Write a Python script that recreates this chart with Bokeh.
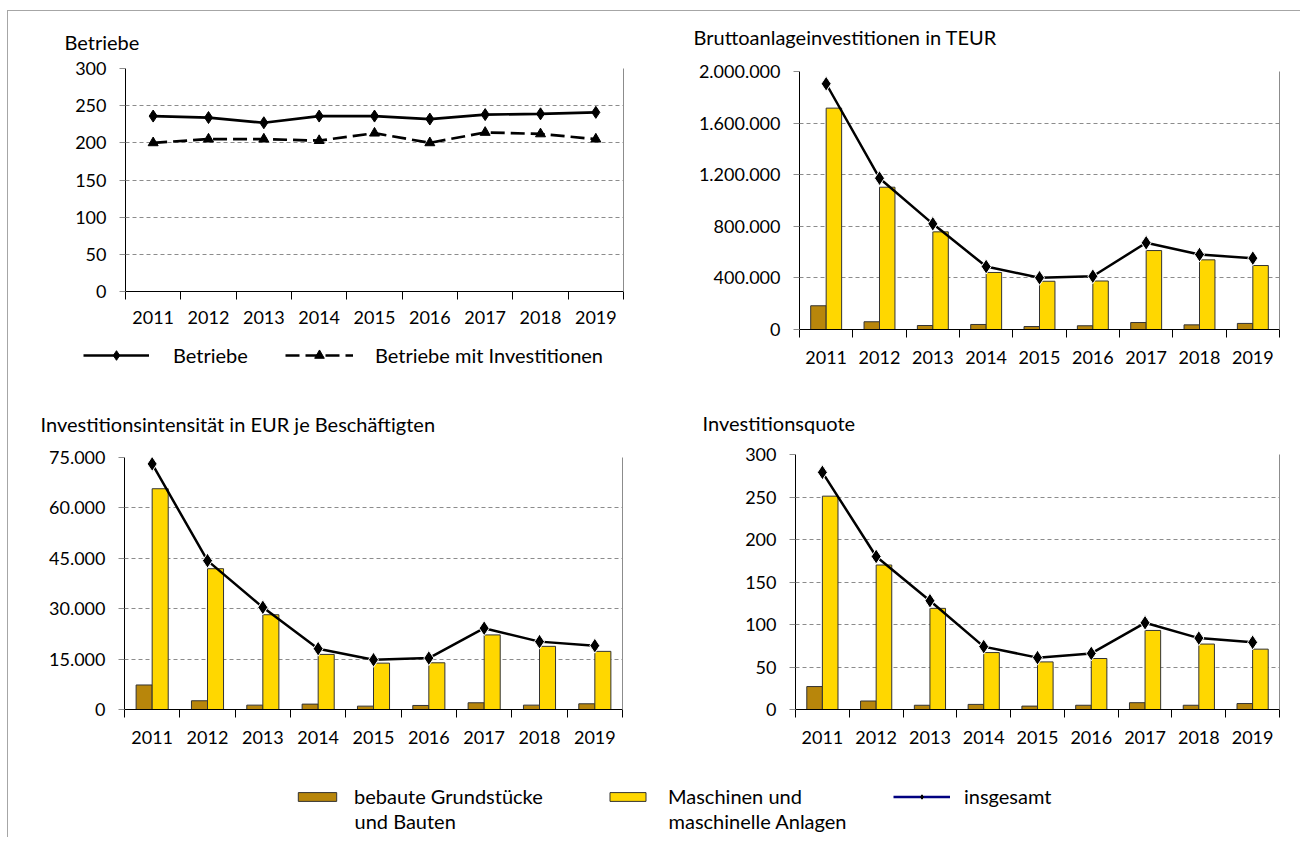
from bokeh.plotting import figure
from bokeh.models import (Range1d, FixedTicker, LinearAxis, Legend, LegendItem,
                          ColumnDataSource, Label)
from bokeh.transform import dodge
from bokeh.layouts import column, row
from bokeh.embed import file_html
from bokeh.resources import INLINE

# ---------------- data ----------------
years = ["2011", "2012", "2013", "2014", "2015", "2016", "2017", "2018", "2019"]

betriebe = [236, 234, 227, 236, 236, 232, 238, 239, 241]
betriebe_inv = [200, 205, 205, 203, 213, 200, 214, 212, 205]

bai_bauten = [184000, 60000, 31000, 39000, 23000, 29000, 54000, 36000, 47000]
bai_masch = [1716000, 1103000, 757000, 442000, 374000, 376000, 612000, 540000, 496000]
bai_total = [1905000, 1173000, 819000, 488000, 401000, 413000, 672000, 581000, 553000]

int_bauten = [7300, 2600, 1300, 1600, 1000, 1200, 2000, 1300, 1700]
int_masch = [65700, 41900, 28200, 16400, 13800, 13900, 22200, 18800, 17300]
int_total = [73100, 44300, 30400, 18100, 14800, 15300, 24200, 20200, 19000]

quote_bauten = [27, 10, 5, 6, 4, 5, 8, 5, 7]
quote_masch = [251, 170, 119, 67, 56, 60, 93, 77, 71]
quote_total = [279, 180, 128, 74, 61, 66, 102, 84, 79]

ticks_betriebe = [0, 50, 100, 150, 200, 250, 300]
ticks_bai = [0, 400000, 800000, 1200000, 1600000, 2000000]
ticks_int = [0, 15000, 30000, 45000, 60000, 75000]
ticks_quote = [0, 50, 100, 150, 200, 250, 300]

titles = ["Betriebe", "Bruttoanlageinvestitionen in TEUR",
          "Investitionsintensität in EUR je Beschäftigten", "Investitionsquote"]
legend_betriebe = ["Betriebe", "Betriebe mit Investitionen"]
legend_main = ["bebaute Grundstücke", "Maschinen und", "insgesamt"]
legend_main_2nd = ["und Bauten", "maschinelle Anlagen"]

# ---------------- style ----------------
FONT = "Lato"
FS = "20px"      # titles / legends
TS = "18px"      # tick labels
BROWN = "#B8860B"
YELLOW = "#FFD700"
GRID = "#8c8c8c"
EDGE = "#333333"

idx = list(range(len(years)))


def de_fmt(v):
    return f"{v:,}".replace(",", ".")


def strip_fig(width, height):
    """Axis-less strip whose frame is the whole canvas (for titles / legends)."""
    q = figure(width=width, height=height, output_backend="svg", toolbar_location=None,
               x_axis_type=None, y_axis_type=None, min_border=0,
               x_range=Range1d(0, width), y_range=Range1d(0, height))
    q.outline_line_color = None
    q.grid.visible = False
    return q


def title_strip(text, width, height, xpos, ypos):
    t = strip_fig(width, height)
    t.add_layout(Label(x=xpos, y=ypos, text=text, text_font=FONT, text_font_size=FS,
                       text_color="black", text_baseline="middle", text_align="left"))
    return t


def make_fig(width, height, left, right, top, bottom, yticks, xstand=13):
    p = figure(width=width, height=height, output_backend="svg", toolbar_location=None,
               x_range=Range1d(-0.5, len(years) - 0.5), y_range=Range1d(yticks[0], yticks[-1]),
               min_border_left=left, min_border_right=right, min_border_top=top,
               min_border_bottom=bottom)
    p.outline_line_color = None
    p.xgrid.visible = False
    p.ygrid.ticker = FixedTicker(ticks=yticks)
    p.ygrid.grid_line_color = GRID
    p.ygrid.grid_line_dash = "4 3"
    p.ygrid.grid_line_width = 1

    xa = p.xaxis[0]
    xa.ticker = FixedTicker(ticks=idx, minor_ticks=[i - 0.5 for i in range(len(years) + 1)])
    xa.major_label_overrides = {i: y for i, y in zip(idx, years)}
    xa.major_tick_out = 0
    xa.major_tick_in = 0
    xa.minor_tick_out = 8
    xa.minor_tick_in = 0
    xa.minor_tick_line_color = "black"
    xa.axis_line_color = "black"
    xa.major_label_standoff = xstand
    xa.major_label_text_font = FONT
    xa.major_label_text_font_size = TS
    xa.major_label_text_color = "black"

    ya = p.yaxis[0]
    ya.ticker = FixedTicker(ticks=yticks)
    ya.major_label_overrides = {t: de_fmt(t) for t in yticks}
    ya.major_tick_out = 6
    ya.major_tick_in = 0
    ya.major_tick_line_color = GRID
    ya.minor_tick_line_color = None
    ya.axis_line_color = "black"
    ya.major_label_standoff = 13
    ya.major_label_text_font = FONT
    ya.major_label_text_font_size = TS
    ya.major_label_text_color = "black"

    ra = LinearAxis(ticker=FixedTicker(ticks=[]), axis_line_color=GRID,
                    major_tick_line_color=None, minor_tick_line_color=None,
                    major_label_text_font_size="0px")
    p.add_layout(ra, "right")
    return p


def add_bars(p, bauten, masch, total, w=0.29):
    src = ColumnDataSource(dict(x=idx, bauten=bauten, masch=masch, total=total))
    p.vbar(x=dodge("x", -w / 2, range=p.x_range), top="bauten", width=w, source=src,
           fill_color=BROWN, line_color=EDGE, line_width=1)
    p.vbar(x=dodge("x", w / 2, range=p.x_range), top="masch", width=w, source=src,
           fill_color=YELLOW, line_color=EDGE, line_width=1)
    p.line("x", "total", source=src, line_color="black", line_width=2.5)
    p.scatter("x", "total", source=src, marker="diamond", size=15,
              fill_color="black", line_color="white", line_width=1)
    return src


def add_legend(q, label, rends, loc, gw, gh, standoff):
    lg = Legend(items=[LegendItem(label=label, renderers=rends)], location=loc,
                glyph_width=gw, glyph_height=gh, label_standoff=standoff, padding=0, margin=0,
                border_line_color=None, background_fill_alpha=0, inactive_fill_alpha=0,
                label_text_font=FONT, label_text_font_size=FS, label_text_color="black")
    q.add_layout(lg, "center")


# ---------------- top-left: Betriebe ----------------
t1 = title_strip(titles[0], 641, 45, 56, 15)
p1 = make_fig(641, 279, 117, 26, 12, 44, ticks_betriebe, xstand=11)
src1 = ColumnDataSource(dict(x=idx, b=betriebe, bi=betriebe_inv))
p1.line("x", "b", source=src1, line_color="black", line_width=2.7)
p1.scatter("x", "b", source=src1, marker="diamond", size=12, fill_color="black", line_color="black")
p1.line("x", "bi", source=src1, line_color="black", line_width=2.7, line_dash="14 6")
p1.scatter("x", "bi", source=src1, marker="triangle", size=10, fill_color="black", line_color="black")

# legend strip of the top-left chart (hidden renderers only feed the legend glyphs)
q1 = strip_fig(641, 60)
kl1 = q1.line("x", "b", source=src1, line_color="black", line_width=2.5, visible=False)
ks1 = q1.scatter("x", "b", source=src1, marker="diamond", size=8, fill_color="black",
                 line_color="black", visible=False)
kl2 = q1.line("x", "bi", source=src1, line_color="black", line_width=2.5, line_dash="14 6",
              visible=False)
ks2 = q1.scatter("x", "bi", source=src1, marker="triangle", size=7, fill_color="black",
                 line_color="black", visible=False)
add_legend(q1, legend_betriebe[0], [kl1, ks1], (75, 28), 66, 24, 24)
add_legend(q1, legend_betriebe[1], [kl2, ks2], (277, 28), 68, 24, 22)

# ---------------- top-right: Bruttoanlageinvestitionen ----------------
t2 = title_strip(titles[1], 643, 45, 44, 20)
p2 = make_fig(643, 339, 150, 13, 15, 66, ticks_bai)
add_bars(p2, bai_bauten, bai_masch, bai_total)

# ---------------- bottom-left: Investitionsintensität ----------------
t3 = title_strip(titles[2], 641, 45, 32, 17)
p3 = make_fig(641, 317, 116, 27, 17, 48, ticks_int)
add_bars(p3, int_bauten, int_masch, int_total)

# ---------------- bottom-right: Investitionsquote ----------------
t4 = title_strip(titles[3], 643, 45, 53, 18)
p4 = make_fig(643, 317, 146, 13, 14, 48, ticks_quote)
src4 = add_bars(p4, quote_bauten, quote_masch, quote_total)

# ---------------- common legend ----------------
pl = strip_fig(1284, 80)
rb = pl.vbar(x="x", top="bauten", width=0.1, source=src4, fill_color=BROWN, line_color=EDGE,
             visible=False)
rm = pl.vbar(x="x", top="masch", width=0.1, source=src4, fill_color=YELLOW, line_color=EDGE,
             visible=False)
rl = pl.line(x="x", y="total", source=src4, line_color="#000080", line_width=2.5, visible=False)
rs = pl.scatter(x="x", y="total", source=src4, marker="diamond", size=8,
                fill_color="black", line_color="black", visible=False)
add_legend(pl, legend_main[0], [rb], (285, 29), 48, 11, 13)
add_legend(pl, legend_main[1], [rm], (597, 29), 45, 11, 18)
add_legend(pl, legend_main[2], [rl, rs], (885, 29), 57, 11, 14)
for txt, xpos in zip(legend_main_2nd, [346, 660]):
    pl.add_layout(Label(x=xpos, y=17, text=txt, text_font=FONT, text_font_size=FS,
                        text_color="black", text_baseline="middle", text_align="left"))

top_row = row(column(row(t1), row(p1), row(q1)), column(row(t2), row(p2)))
bottom_row = row(column(row(t3), row(p3)), column(row(t4), row(p4)))
layout = column(top_row, bottom_row, pl,
                styles={"margin-left": "7px", "margin-top": "10px", "padding-right": "8px",
                        "border-left": "1px solid #a6a6a6", "border-top": "1px solid #a6a6a6"})

open("out.html", "w").write(file_html(layout, INLINE))
